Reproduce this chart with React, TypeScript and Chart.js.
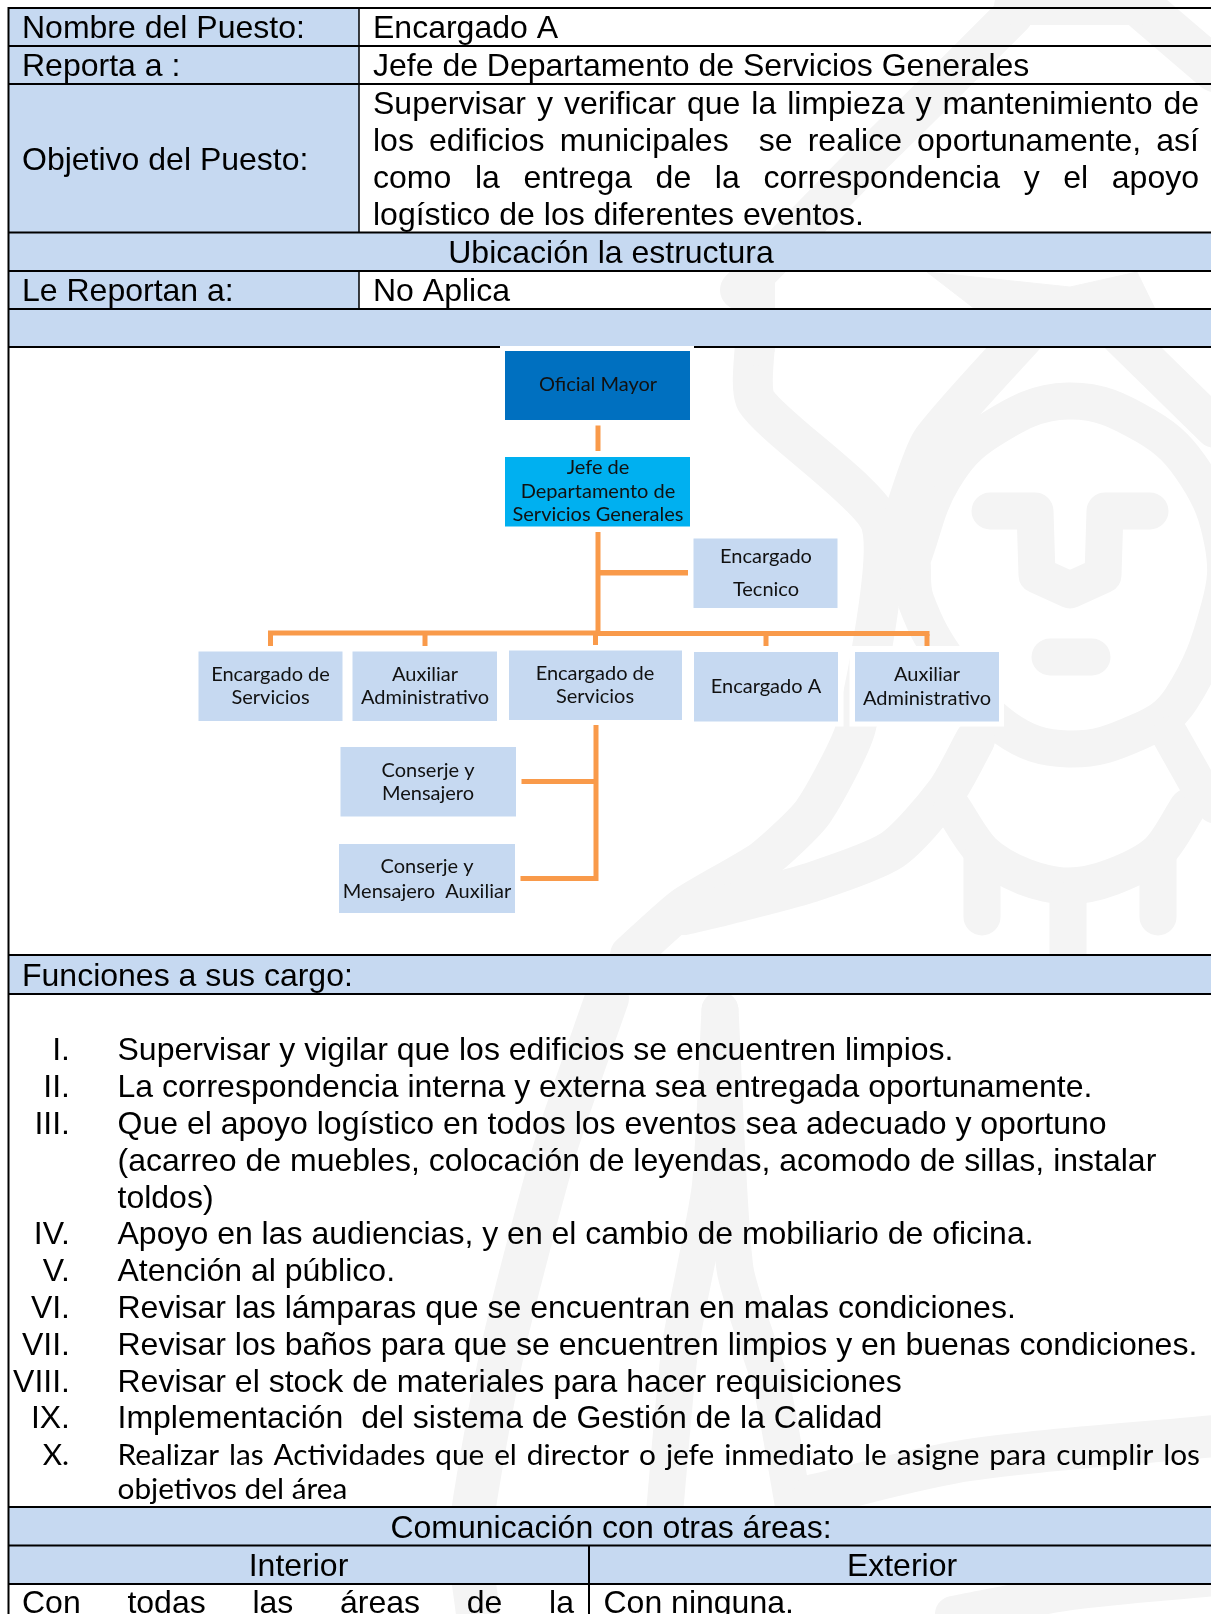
import React, { useEffect, useRef } from "react";
import { Chart, registerables } from "chart.js";

Chart.register(...registerables);

// ---- content ----
const fieldLabels = ["Nombre del Puesto:", "Reporta a :", "Objetivo del Puesto:", "Le Reportan a:"];
const fieldValues = ["Encargado A", "Jefe de Departamento de Servicios Generales", "No Aplica"];
const objectiveLines = [
  "Supervisar y verificar que la limpieza y mantenimiento de",
  "los edificios municipales  se realice oportunamente, así",
  "como la entrega de la correspondencia y el apoyo",
  "logístico de los diferentes eventos.",
];
const sectionTitles = ["Ubicación la estructura", "Funciones a sus cargo:", "Comunicación con otras áreas:", "Interior", "Exterior"];
const numerals = ["I.", "II.", "III.", "IV.", "V.", "VI.", "VII.", "VIII.", "IX.", "X."];
const functionLines = [
  "Supervisar y vigilar que los edificios se encuentren limpios.",
  "La correspondencia interna y externa sea entregada oportunamente.",
  "Que el apoyo logístico en todos los eventos sea adecuado y oportuno",
  "(acarreo de muebles, colocación de leyendas, acomodo de sillas, instalar",
  "toldos)",
  "Apoyo en las audiencias, y en el cambio de mobiliario de oficina.",
  "Atención al público.",
  "Revisar las lámparas que se encuentran en malas condiciones.",
  "Revisar los baños para que se encuentren limpios y en buenas condiciones.",
  "Revisar el stock de materiales para hacer requisiciones",
  "Implementación  del sistema de Gestión de la Calidad",
];
const lastFunctionLines = [
  "Realizar las Actividades que el director o jefe inmediato le asigne para cumplir los",
  "objetivos del área",
];
const interiorText = "Con todas las áreas de la";
const exteriorText = "Con ninguna.";
const orgNodes = [
  ["Oficial Mayor"],
  ["Jefe de", "Departamento de", "Servicios Generales"],
  ["Encargado", "Tecnico"],
  ["Encargado de", "Servicios"],
  ["Auxiliar", "Administrativo"],
  ["Encargado de", "Servicios"],
  ["Encargado A"],
  ["Auxiliar", "Administrativo"],
  ["Conserje y", "Mensajero"],
  ["Conserje y", "Mensajero  Auxiliar"],
];

// ---- layout (separate from the content above) ----
const WIDTH = 1211;
const HEIGHT = 1614;
const BLUE = "#c6d9f1";
const ORANGE = "#f99a4a";
const WM = "#f4f4f4";
const SANS = "'Liberation Sans'";
const CAL = "Lato";

type R = [number, number, number, number];
const orgBoxes: { r: R; c: string; cx: number; b: number[] }[] = [
  { r: [505, 351, 690, 420], c: "#0070c0", cx: 598, b: [391] },
  { r: [505, 457, 690, 526.5], c: "#00b0f0", cx: 598, b: [474, 497.5, 520.5] },
  { r: [693.5, 538.5, 837.5, 608], c: BLUE, cx: 766, b: [563, 596] },
  { r: [198.5, 651.5, 342.5, 721], c: BLUE, cx: 270.5, b: [680.5, 704] },
  { r: [352.5, 651.5, 497, 721], c: BLUE, cx: 425, b: [680.5, 704] },
  { r: [509, 650.5, 682, 720], c: BLUE, cx: 595, b: [679.5, 703] },
  { r: [694, 652, 838, 721.5], c: BLUE, cx: 766, b: [692.5] },
  { r: [855, 652, 999, 721.5], c: BLUE, cx: 927, b: [680.5, 704.5] },
  { r: [340.5, 747, 516, 816.5], c: BLUE, cx: 428, b: [776.5, 800] },
  { r: [339, 844, 515, 913], c: BLUE, cx: 427, b: [873, 897.5] },
];
const halos: R[] = [
  [500, 346, 694, 425],
  [500, 425, 694, 530],
  [684, 646, 843.5, 726.5],
  [849.5, 646, 1004, 726.5],
];
const connectors: R[] = [
  [595.5, 425.5, 600.5, 451],
  [595.5, 532, 600.5, 634],
  [598, 570, 688, 575.5],
  [268, 630.5, 598, 635.5],
  [598, 631, 929.5, 636],
  [268, 632, 273, 646],
  [422.5, 632, 427.5, 646],
  [593, 632, 598, 645],
  [763.5, 634, 768.5, 646],
  [924.5, 634, 929.5, 646],
  [593.5, 725, 598.5, 881],
  [521.5, 779, 594, 784],
  [520.5, 876, 594, 881],
];
const blueBands: R[] = [
  [9, 8, 359, 232],
  [9, 232, WIDTH, 271],
  [9, 271, 359, 309],
  [9, 309, WIDTH, 347],
  [9, 955, WIDTH, 994],
  [9, 1507, WIDTH, 1584],
];
const ruleH = [8, 46, 84, 232.5, 271, 309, 347, 955, 994, 1507, 1545.5, 1584];
const ruleV: [number, number, number, number][] = [
  [8.5, 7, 1614, 2],
  [359, 8, 232, 1.5],
  [359, 271, 309, 1.5],
  [589, 1545, 1614, 2],
];
const wmPolygons: [number, number][][] = [
  [[927, 272], [1070, 287], [1137, 272], [1155, 309], [975, 309], [927, 272]],
];
const wmStrokes: { p: [number, number][]; w?: number; t?: number }[] = [
  // face outline
  { p: [[912, 560], [943, 479], [990, 430], [1068, 401], [1146, 426], [1196, 475], [1223, 544], [1220, 605], [1181, 699], [1138, 732], [1068, 749], [1005, 728], [951, 666], [916, 601], [912, 560]], t: 0.4 },
  // brows, nose, mouth
  { p: [[990, 511], [1035, 511], [1037, 575], [1070, 590], [1103, 575], [1105, 511], [1150, 511]] },
  { p: [[1050, 657], [1092, 657]] },
  // headdress
  { p: [[756, 330], [756, 401], [881, 524], [856, 727], [813, 812], [763, 860], [684, 907], [630, 955]], w: 40, t: 0.2 },
  { p: [[975, 740], [946, 792], [892, 850], [809, 883], [726, 905], [684, 915]], w: 40, t: 0.25 },
  { p: [[905, 511], [931, 442], [1030, 330]], w: 40, t: 0.2 },
  { p: [[1115, 330], [1215, 428]], w: 40 },
  { p: [[756, 271], [756, 347]], w: 38 },
  { p: [[1013, 15], [945, 83], [867, 160], [740, 290]], w: 40 },
  { p: [[1145, 10], [1215, 70]], w: 44 },
  { p: [[1013, 6], [1140, 6]], w: 38 },
  // collar and tabs
  { p: [[952, 807], [983, 852], [1025, 877], [1068, 886], [1112, 877], [1158, 852], [1188, 807]], t: 0.3 },
  { p: [[982, 858], [982, 917]] },
  { p: [[1068, 900], [1068, 960]] },
  { p: [[1158, 858], [1158, 917]] },
  { p: [[1170, 735], [1201, 790], [1215, 805]] },
  // lower body
  { p: [[607, 998], [555, 1149], [503, 1348], [470, 1537], [478, 1614]], w: 44, t: 0.2 },
  { p: [[720, 1010], [710, 1189], [680, 1348], [665, 1507]], t: 0.2 },
  { p: [[720, 1010], [735, 1269], [772, 1388], [793, 1503]], t: 0.2 },
  { p: [[814, 1495], [969, 1460], [1215, 1436]], w: 42, t: 0.3 },
  { p: [[953, 1614], [1072, 1592], [1215, 1578]], w: 36, t: 0.3 },
];

const ARIAL = `32px ${SANS}`;
const ORG = `20px ${CAL}`;
const LAST = `29.8px ${CAL}`;
type T = { s: string; x: number; y: number; f: string; a?: CanvasTextAlign; to?: number; c?: string };
const listBaselines = [1059.5, 1096.5, 1134, 1171, 1208, 1244, 1281, 1318, 1355, 1392, 1428];
const numeralLines = [0, 1, 2, 5, 6, 7, 8, 9, 10];
const tableTexts: T[] = [
  { s: fieldLabels[0], x: 22, y: 38, f: ARIAL },
  { s: fieldLabels[1], x: 22, y: 76, f: ARIAL },
  { s: fieldLabels[2], x: 22, y: 170, f: ARIAL },
  { s: fieldLabels[3], x: 22, y: 300.5, f: ARIAL },
  { s: fieldValues[0], x: 373, y: 38, f: ARIAL },
  { s: fieldValues[1], x: 373, y: 76, f: ARIAL },
  { s: fieldValues[2], x: 373, y: 300.5, f: ARIAL },
  { s: objectiveLines[0], x: 373, y: 114, f: ARIAL, to: 1199 },
  { s: objectiveLines[1], x: 373, y: 151, f: ARIAL, to: 1199 },
  { s: objectiveLines[2], x: 373, y: 188, f: ARIAL, to: 1199 },
  { s: objectiveLines[3], x: 373, y: 225, f: ARIAL },
  { s: sectionTitles[0], x: 611, y: 262.5, f: ARIAL, a: "center" },
  { s: sectionTitles[1], x: 22, y: 986, f: ARIAL },
  { s: sectionTitles[2], x: 611, y: 1538, f: ARIAL, a: "center" },
  { s: sectionTitles[3], x: 298.5, y: 1576, f: ARIAL, a: "center" },
  { s: sectionTitles[4], x: 902, y: 1576, f: ARIAL, a: "center" },
  { s: interiorText, x: 22, y: 1612.5, f: ARIAL, to: 574 },
  { s: exteriorText, x: 603.5, y: 1612.5, f: ARIAL },
  ...functionLines.map((s, i): T => ({ s, x: 117.5, y: listBaselines[i], f: ARIAL })),
  ...numeralLines.map((li, i): T => ({ s: numerals[i], x: 70, y: listBaselines[li], f: ARIAL, a: "right" })),
  { s: numerals[9], x: 69, y: 1464.5, f: LAST, a: "right" },
  { s: lastFunctionLines[0], x: 117.5, y: 1464.5, f: LAST, to: 1200 },
  { s: lastFunctionLines[1], x: 117.5, y: 1499, f: LAST },
];
const orgTexts: T[] = orgNodes.flatMap((lines, i) =>
  lines.map((s, j): T => ({ s, x: orgBoxes[i].cx, y: orgBoxes[i].b[j], f: ORG, a: "center", c: "#111" }))
);

function band(r: R, color: string) {
  const y = (r[1] + r[3]) / 2;
  const horizontal = r[2] - r[0] >= r[3] - r[1];
  return {
    data: horizontal
      ? [{ x: r[0], y }, { x: r[2], y }]
      : [{ x: (r[0] + r[2]) / 2, y: r[1] }, { x: (r[0] + r[2]) / 2, y: r[3] }],
    borderColor: color,
    borderWidth: horizontal ? r[3] - r[1] : r[2] - r[0],
    borderCapStyle: "butt",
    tension: 0,
    showLine: true,
    pointRadius: 0,
  };
}

const textPlugin = {
  id: "documentText",
  afterDatasetsDraw(chart: any) {
    const { ctx, scales } = chart;
    ctx.save();
    ctx.textBaseline = "alphabetic";
    for (const t of [...tableTexts, ...orgTexts]) {
      ctx.font = t.f;
      ctx.fillStyle = t.c || "#000";
      ctx.textAlign = t.a || "left";
      ctx.wordSpacing = "0px";
      const px = scales.x.getPixelForValue(t.x);
      const py = scales.y.getPixelForValue(t.y);
      if (t.to) {
        const natural = ctx.measureText(t.s).width;
        const gaps = t.s.split(" ").length - 1;
        ctx.wordSpacing = `${(t.to - t.x - natural) / gaps}px`;
      }
      ctx.fillText(t.s, px, py);
    }
    ctx.restore();
  },
};

export default function App() {
  const ref = useRef<HTMLCanvasElement>(null);
  useEffect(() => {
    if (!ref.current) return;
    const bottomUp: any[] = [
      ...wmPolygons.map((p) => ({
        data: p.map(([x, y]) => ({ x, y })),
        backgroundColor: WM,
        borderColor: WM,
        borderWidth: 1,
        fill: "shape",
        tension: 0,
        showLine: true,
        pointRadius: 0,
      })),
      ...wmStrokes.map((s) => ({
        data: s.p.map(([x, y]) => ({ x, y })),
        borderColor: WM,
        borderWidth: s.w || 37,
        borderCapStyle: "round",
        borderJoinStyle: "round",
        tension: s.t || 0,
        showLine: true,
        pointRadius: 0,
      })),
      ...blueBands.map((r) => band(r, BLUE)),
      ...ruleH.map((y) => band([8, y - 1, WIDTH, y + 1], "#000")),
      ...ruleV.map(([x, y0, y1, w]) => band([x - w / 2, y0, x + w / 2, y1], "#000")),
      ...halos.map((r) => band(r, "#fff")),
      ...orgBoxes.map((b) => band(b.r, b.c)),
      ...connectors.map((r) => band(r, ORANGE)),
    ];
    const chart = new Chart(ref.current, {
      type: "scatter",
      data: { datasets: bottomUp.reverse() },
      plugins: [textPlugin],
      options: {
        animation: false,
        responsive: false,
        layout: { padding: 0 },
        plugins: { legend: { display: false }, tooltip: { enabled: false }, title: { display: false } },
        scales: {
          x: { type: "linear", min: 0, max: WIDTH, display: false },
          y: { type: "linear", min: 0, max: HEIGHT, reverse: true, display: false },
        },
      },
    } as any);
    return () => chart.destroy();
  }, []);
  return (
    <div style={{ position: "absolute", left: 0, top: 0, width: WIDTH, height: HEIGHT, overflow: "hidden", background: "#fff" }}>
      <canvas ref={ref} width={WIDTH} height={HEIGHT} style={{ display: "block", width: WIDTH, height: HEIGHT }} />
    </div>
  );
}
